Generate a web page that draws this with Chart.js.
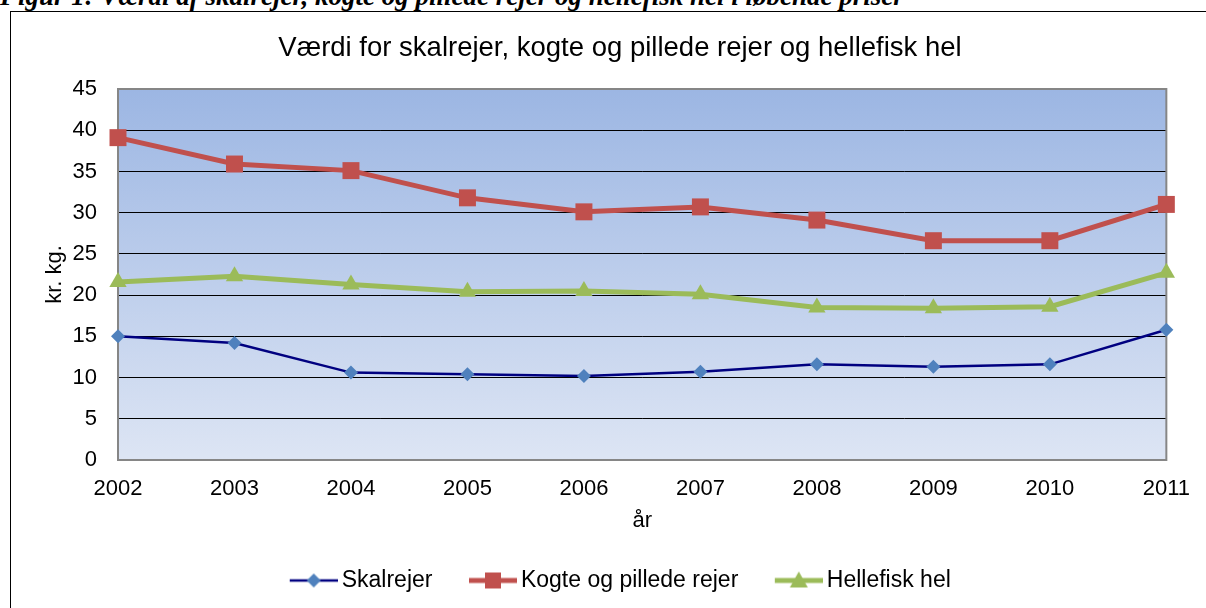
<!DOCTYPE html>
<html>
<head>
<meta charset="utf-8">
<script src="https://cdn.jsdelivr.net/npm/chart.js@4.4.1/dist/chart.umd.min.js"></script>
<style>
    body { margin: 0; background: #ffffff; overflow: hidden; }
    #caption {
        position: absolute; left: 0; top: -17px; white-space: nowrap;
        font: bold italic 27px/27px "Times New Roman", "Liberation Serif", serif;
    }
    #frame {
        position: absolute; left: 10px; top: 11px; width: 1200px; height: 600px;
        border-left: 1px solid #000; border-top: 1px solid #000;
    }
    #wrap { position: absolute; left: 11px; top: 12px; width: 1195px; height: 596px; }
</style>
</head>
<body>
<div id="caption">Figur 1: Værdi af skalrejer, kogte og pillede rejer og hellefisk hel i løbende priser</div>
<div id="frame"></div>
<div id="wrap"><canvas id="chart"></canvas></div>
<script>
// Data (kr. pr. kg)
const years = ['2002', '2003', '2004', '2005', '2006', '2007', '2008', '2009', '2010', '2011'];
const skalrejer = [15.0, 14.2, 10.6, 10.4, 10.2, 10.7, 11.6, 11.3, 11.6, 15.8];
const kogteRejer = [39.1, 35.9, 35.1, 31.8, 30.1, 30.7, 29.1, 26.6, 26.6, 31.0];
const hellefisk = [21.6, 22.3, 21.3, 20.4, 20.5, 20.1, 18.5, 18.4, 18.6, 22.7];
const seriesNames = ['Skalrejer', 'Kogte og pillede rejer', 'Hellefisk hel'];

const FONT = 'Arial, "Liberation Sans", sans-serif';

// Plot area background gradient and grey frame
const plotArea = {
    id: 'plotArea',
    beforeDraw(chart) {
        const { ctx, chartArea: a } = chart;
        const g = ctx.createLinearGradient(0, a.top, 0, a.bottom);
        g.addColorStop(0, '#9cb6e3');
        g.addColorStop(1, '#dde5f4');
        ctx.save();
        ctx.fillStyle = g;
        ctx.fillRect(a.left, a.top, a.right - a.left, a.bottom - a.top);
        ctx.restore();
    },
    beforeDatasetsDraw(chart) {
        const { ctx, chartArea: a } = chart;
        ctx.save();
        ctx.strokeStyle = '#868686';
        ctx.lineWidth = 2;
        ctx.strokeRect(a.left, a.top, a.right - a.left, a.bottom - a.top);
        ctx.restore();
    }
};

// Legend sample: line with marker, padded left so the text sits close
function legendSample(color, lineWidth, marker, markerColor) {
    const c = document.createElement('canvas');
    c.width = 56;
    c.height = 24;
    const x = c.getContext('2d');
    x.strokeStyle = color;
    x.lineWidth = lineWidth;
    x.beginPath();
    x.moveTo(8, 12);
    x.lineTo(56, 12);
    x.stroke();
    x.fillStyle = markerColor;
    x.beginPath();
    if (marker === 'diamond') {
        x.moveTo(32, 5); x.lineTo(39, 12); x.lineTo(32, 19); x.lineTo(25, 12);
    } else if (marker === 'square') {
        x.rect(24, 4, 16, 16);
    } else {
        x.moveTo(32, 3); x.lineTo(41, 19); x.lineTo(23, 19);
    }
    x.closePath();
    x.fill();
    return c;
}

const samples = [
    legendSample('#000080', 2.5, 'diamond', '#4f81bd'),
    legendSample('#c0504d', 5, 'square', '#c0504d'),
    legendSample('#9bbb59', 5, 'triangle', '#9bbb59')
];

new Chart(document.getElementById('chart'), {
    type: 'line',
    data: {
        labels: years,
        datasets: [{
            label: seriesNames[0],
            data: skalrejer,
            borderColor: '#000080',
            borderWidth: 2.5,
            pointStyle: 'rectRot',
            pointRadius: 7,
            pointBackgroundColor: '#4f81bd',
            pointBorderWidth: 0,
            clip: false
        }, {
            label: seriesNames[1],
            data: kogteRejer,
            borderColor: '#c0504d',
            borderWidth: 5,
            pointStyle: 'rect',
            pointRadius: 12,
            pointBackgroundColor: '#c0504d',
            pointBorderWidth: 0,
            clip: false
        }, {
            label: seriesNames[2],
            data: hellefisk,
            borderColor: '#9bbb59',
            borderWidth: 5,
            pointStyle: 'triangle',
            pointRadius: 10,
            pointBackgroundColor: '#9bbb59',
            pointBorderWidth: 0,
            clip: false
        }]
    },
    options: {
        responsive: true,
        maintainAspectRatio: false,
        animation: false,
        layout: { padding: { left: 23, right: 0, top: 0, bottom: 6 } },
        elements: { line: { tension: 0 } },
        plugins: {
            title: {
                display: true,
                text: 'Værdi for skalrejer, kogte og pillede rejer og hellefisk hel',
                color: '#000',
                font: { family: FONT, size: 27.5, weight: 'normal' },
                padding: { top: 20, bottom: 24 }
            },
            legend: {
                position: 'bottom',
                labels: {
                    color: '#000',
                    font: { family: FONT, size: 23 },
                    usePointStyle: true,
                    pointStyleWidth: 41,
                    padding: 36,
                    generateLabels(chart) {
                        const items = Chart.defaults.plugins.legend.labels.generateLabels(chart);
                        items.forEach((item, i) => { item.pointStyle = samples[i]; });
                        return items;
                    }
                }
            },
            tooltip: { enabled: false }
        },
        scales: {
            x: {
                offset: false,
                grid: { display: false, drawTicks: false },
                border: { display: false },
                ticks: { color: '#000', font: { family: FONT, size: 22 }, padding: 16, maxRotation: 0 },
                title: {
                    display: true, text: 'år', color: '#000',
                    font: { family: FONT, size: 22 }, padding: { top: 0, bottom: -1 }
                },
                afterFit(scale) { scale.height = 73; }
            },
            y: {
                min: 0,
                max: 45,
                grid: { color: '#000', lineWidth: 1, drawTicks: false },
                border: { display: false },
                ticks: { stepSize: 5, color: '#000', font: { family: FONT, size: 22 }, padding: 21 },
                title: {
                    display: true, text: 'kr. kg.', color: '#000',
                    font: { family: FONT, size: 22 }, padding: { top: 8, bottom: 0 }
                },
                afterFit(scale) { scale.width = 84; }
            },
            // empty right axis that only reserves the margin right of the plot
            yRight: {
                position: 'right',
                min: 0,
                max: 45,
                grid: { display: false, drawTicks: false },
                border: { display: false },
                ticks: { display: false },
                afterFit(scale) { scale.width = 38; }
            }
        }
    },
    plugins: [plotArea]
});
</script>
</body>
</html>
